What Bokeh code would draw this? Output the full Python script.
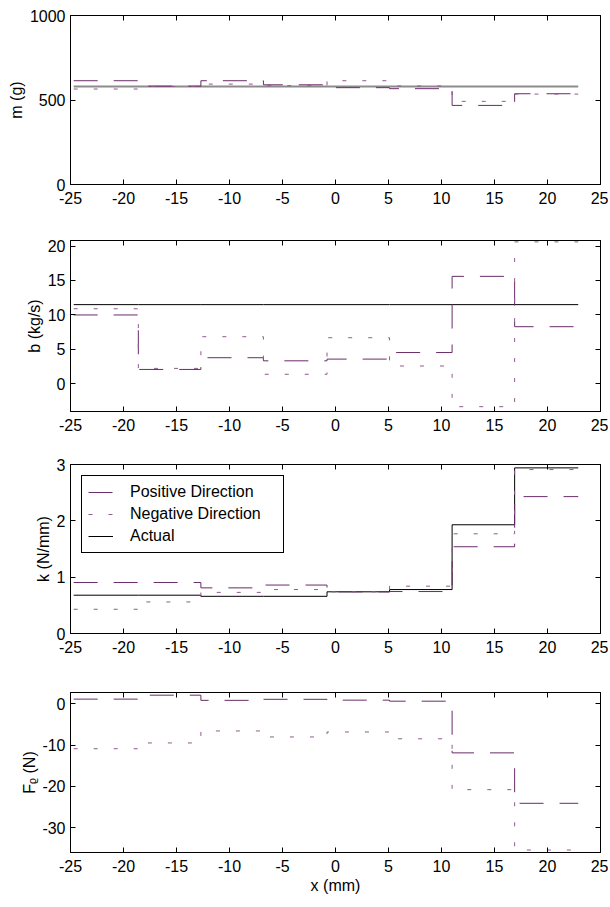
from bokeh.plotting import figure
from bokeh.models import Range1d, LinearAxis, FixedTicker, Legend, LegendItem, Title
from bokeh.embed import file_html
from bokeh.resources import INLINE

# ---- data ----
x_edges = [-24.7, -18.6, -12.7, -6.8, -0.8, 5.1, 11.0, 16.9, 22.9]
x_ticks = [-25, -20, -15, -10, -5, 0, 5, 10, 15, 20, 25]
x_tick_labels = ["-25", "-20", "-15", "-10", "-5", "0", "5", "10", "15", "20", "25"]

m_actual = [580, 580, 580, 580, 580, 580, 580, 580]
m_pos = [614, 582, 614, 590, 573, 567, 468, 537]
m_neg = [565, 580, 594, 585, 614, 583, 492, 535]
m_ticks = [0, 500, 1000]
m_tick_labels = ["0", "500", "1000"]

b_actual = [11.5, 11.5, 11.5, 11.5, 11.5, 11.5, 11.5, 11.5]
b_pos = [10.0, 2.1, 3.8, 3.35, 3.6, 4.55, 15.6, 8.3]
b_neg = [10.9, 2.25, 6.85, 1.4, 6.7, 2.6, -3.3, 20.6]
b_ticks = [0, 5, 10, 15, 20]
b_tick_labels = ["0", "5", "10", "15", "20"]

k_actual = [0.68, 0.68, 0.66, 0.66, 0.74, 0.78, 1.93, 2.94]
k_pos = [0.905, 0.905, 0.81, 0.86, 0.74, 0.745, 1.54, 2.43]
k_neg = [0.43, 0.56, 0.73, 0.78, 0.74, 0.84, 1.77, 2.91]
k_ticks = [0, 1, 2, 3]
k_tick_labels = ["0", "1", "2", "3"]

F_pos = [1.1, 2.05, 0.8, 1.05, 0.85, 0.6, -11.9, -24.1]
F_neg = [-10.9, -9.5, -6.6, -8.05, -6.85, -8.5, -20.8, -35.4]
F_ticks = [-30, -20, -10, 0]
F_tick_labels = ["-30", "-20", "-10", "0"]

FONT = "Liberation Sans"
FS = "16px"
POS_COLOR = "#6A2C6A"
NEG_COLOR = "#8E5C8E"
POS_DASH = "24 16"
NEG_DASH = "4 16"


def ext(v):
    return list(v) + [v[-1]]


def make_fig(height, top, bottom, yrange, yticks, ylabels, ylabel, xlabel=None):
    p = figure(width=608, height=height,
               x_range=Range1d(-25, 25), y_range=Range1d(*yrange),
               output_backend="svg", toolbar_location=None,
               min_border_left=70, min_border_right=8,
               min_border_top=top, min_border_bottom=bottom)
    p.xgrid.visible = False
    p.ygrid.visible = False
    p.outline_line_color = "black"
    p.outline_line_width = 1
    p.outline_line_alpha = 1
    p.add_layout(LinearAxis(), "above")
    p.add_layout(LinearAxis(), "right")
    for ax in p.xaxis:
        ax.ticker = FixedTicker(ticks=x_ticks)
        ax.major_label_overrides = dict(zip(x_ticks, x_tick_labels))
    for ax in p.yaxis:
        ax.ticker = FixedTicker(ticks=yticks)
        ax.major_label_overrides = dict(zip(yticks, ylabels))
    for ax in p.axis:
        ax.axis_line_color = "black"
        ax.major_tick_line_color = "black"
        ax.major_tick_in = 5
        ax.major_tick_out = 0
        ax.minor_tick_line_color = None
        ax.major_label_text_font = FONT
        ax.major_label_text_font_size = FS
        ax.major_label_text_color = "black"
        ax.major_label_standoff = 5
        ax.axis_label_text_font = FONT
        ax.axis_label_text_font_size = FS
        ax.axis_label_text_font_style = "normal"
        ax.axis_label_text_color = "black"
        ax.axis_label_standoff = 5
    p.below[0].major_label_standoff = 7
    for ax in (p.above[0], p.right[0]):
        ax.major_label_text_color = None
        ax.major_label_text_font_size = "1px"
        ax.major_label_standoff = 0
    p.add_layout(Title(text=ylabel, align="center", text_font=FONT, text_font_size=FS,
                       text_font_style="normal", text_color="black", standoff=4), "left")
    if xlabel:
        p.below[0].axis_label = xlabel
        p.below[0].axis_label_standoff = 2
    return p


# m plot
p1 = make_fig(212, 15, 28, (0, 1000), m_ticks, m_tick_labels, "m (g)")
p1.step(x=x_edges, y=ext(m_actual), mode="after", line_color="#8C8C8C", line_width=2)
p1.step(x=x_edges, y=ext(m_pos), mode="after", line_color=POS_COLOR, line_width=1, line_dash=POS_DASH)
p1.step(x=x_edges, y=ext(m_neg), mode="after", line_color=NEG_COLOR, line_width=1, line_dash=NEG_DASH)

# b plot
p2 = make_fig(221, 28, 22, (-4.0, 20.8), b_ticks, b_tick_labels, "b (kg/s)")
p2.step(x=x_edges, y=ext(b_actual), mode="after", line_color="black", line_width=1)
p2.step(x=x_edges, y=ext(b_pos), mode="after", line_color=POS_COLOR, line_width=1, line_dash=POS_DASH)
p2.step(x=x_edges, y=ext(b_neg), mode="after", line_color=NEG_COLOR, line_width=1, line_dash=NEG_DASH)

# k plot
p3 = make_fig(223, 31, 23, (0, 3), k_ticks, k_tick_labels, "k (N/mm)")
ra = p3.step(x=x_edges, y=ext(k_actual), mode="after", line_color="black", line_width=1)
rp = p3.step(x=x_edges, y=ext(k_pos), mode="after", line_color=POS_COLOR, line_width=1, line_dash=POS_DASH)
rn = p3.step(x=x_edges, y=ext(k_neg), mode="after", line_color=NEG_COLOR, line_width=1, line_dash=NEG_DASH)
legend = Legend(items=[LegendItem(label="Positive Direction", renderers=[rp]),
                       LegendItem(label="Negative Direction", renderers=[rn]),
                       LegendItem(label="Actual", renderers=[ra])],
                location="top_left", margin=11, padding=6, spacing=2,
                glyph_width=25, glyph_height=20, label_height=20, label_width=147,
                label_standoff=17, label_text_font=FONT, label_text_font_size=FS,
                label_text_color="black",
                border_line_color="black", border_line_width=1, border_line_alpha=1,
                background_fill_color="white", background_fill_alpha=1)
p3.add_layout(legend)

# F plot
p4 = make_fig(240, 36, 34, (-36.0, 2.7), F_ticks, F_tick_labels, "F\u1d68 (N)", xlabel="x (mm)")
p4.step(x=x_edges, y=ext(F_pos), mode="after", line_color=POS_COLOR, line_width=1, line_dash=POS_DASH)
p4.step(x=x_edges, y=ext(F_neg), mode="after", line_color=NEG_COLOR, line_width=1, line_dash=NEG_DASH)

open("out.html", "w").write(file_html([p1, p2, p3, p4], INLINE))
